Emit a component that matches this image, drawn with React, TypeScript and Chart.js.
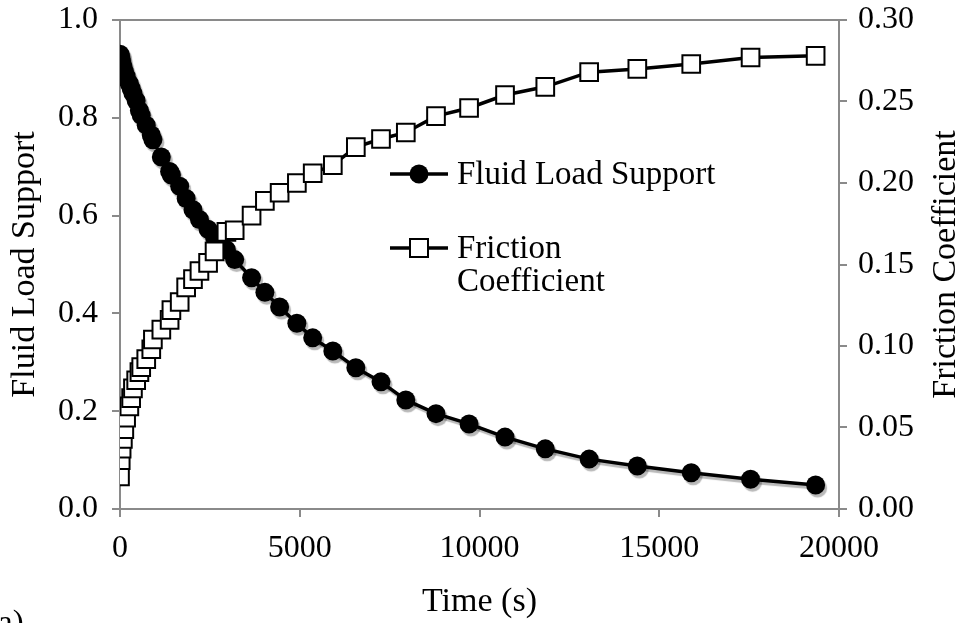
import React, { useEffect, useRef } from "react";
import { Chart, registerables } from "chart.js";

Chart.register(...registerables);

const timeSeconds = [
  0, 20, 45, 80, 120, 170, 260, 310, 360, 450, 540, 590, 730, 870, 915, 1150,
  1380, 1430, 1660, 1840, 2030, 2210, 2450, 2630, 2960, 3190, 3660, 4030, 4440,
  4920, 5360, 5920, 6560, 7260, 7950, 8790, 9710, 10710, 11830, 13050, 14390,
  15890, 17540, 19350,
];

const fluidLoadSupport = [
  0.93, 0.925, 0.915, 0.905, 0.895, 0.885, 0.87, 0.86, 0.85, 0.835, 0.815, 0.805,
  0.785, 0.765, 0.755, 0.72, 0.69, 0.683, 0.66, 0.635, 0.612, 0.592, 0.572, 0.555,
  0.53, 0.51, 0.473, 0.443, 0.413, 0.38, 0.35, 0.323, 0.289, 0.26, 0.223, 0.195,
  0.174, 0.147, 0.123, 0.102, 0.088, 0.074, 0.061, 0.049,
];

const frictionCoefficient = [
  0.02, 0.03, 0.037, 0.043, 0.049, 0.056, 0.063, 0.068, 0.074, 0.079, 0.084, 0.087,
  0.092, 0.098, 0.104, 0.11, 0.116, 0.122, 0.127, 0.136, 0.141, 0.146, 0.151, 0.158,
  0.17, 0.171, 0.18, 0.189, 0.194, 0.2, 0.206, 0.211, 0.222, 0.227, 0.231, 0.241,
  0.246, 0.254, 0.259, 0.268, 0.27, 0.273, 0.277, 0.278,
];

const xTicks = [0, 5000, 10000, 15000, 20000];
const leftTicks = [0, 0.2, 0.4, 0.6, 0.8, 1.0];
const rightTicks = [0, 0.05, 0.1, 0.15, 0.2, 0.25, 0.3];

const seriesNames = ["Fluid Load Support", "Friction Coefficient"];
const legendLines = [["Fluid Load Support"], ["Friction", "Coefficient"]];
const xTitle = "Time (s)";
const leftTitle = "Fluid Load Support";
const rightTitle = "Friction Coefficient";
const panelLabel = "a)";

const FONT = "'Liberation Serif', 'Times New Roman', serif";
const AXIS_GRAY = "#8a8a8a";

export default function App() {
  const canvasRef = useRef<HTMLCanvasElement | null>(null);

  useEffect(() => {
    const canvas = canvasRef.current;
    if (!canvas) return;

    const shadowPlugin = {
      id: "circleShadow",
      beforeDatasetDraw(chart: any, args: any) {
        if (args.index === 0) {
          const ctx = chart.ctx;
          ctx.save();
          ctx.shadowColor = "rgba(0,0,0,0.28)";
          ctx.shadowOffsetX = 2;
          ctx.shadowOffsetY = 3;
          ctx.shadowBlur = 1;
        }
      },
      afterDatasetDraw(chart: any, args: any) {
        if (args.index === 0) {
          chart.ctx.restore();
        }
      },
    };

    const framePlugin = {
      id: "frame",
      afterDatasetsDraw(chart: any) {
        const { ctx, chartArea } = chart;
        ctx.save();
        ctx.strokeStyle = AXIS_GRAY;
        ctx.lineWidth = 2;
        ctx.beginPath();
        ctx.moveTo(chartArea.left, chartArea.top);
        ctx.lineTo(chartArea.right, chartArea.top);
        ctx.stroke();
        ctx.restore();
      },
    };

    const legendPlugin = {
      id: "insideLegend",
      afterDraw(chart: any) {
        const ctx = chart.ctx;
        const { chartArea } = chart;
        ctx.save();
        const x0 = 390;
        const x1 = 448;
        const xm = (x0 + x1) / 2;
        const tx = 457;
        ctx.font = `33px ${FONT}`;
        ctx.fillStyle = "#000";
        ctx.textBaseline = "middle";
        ctx.textAlign = "left";
        // Fluid load support
        let y = 174;
        ctx.strokeStyle = "#000";
        ctx.lineWidth = 3.5;
        ctx.beginPath();
        ctx.moveTo(x0, y);
        ctx.lineTo(x1, y);
        ctx.stroke();
        ctx.beginPath();
        ctx.arc(xm, y, 9.5, 0, Math.PI * 2);
        ctx.fill();
        ctx.fillText(legendLines[0][0], tx, y + 1);
        // Friction
        y = 248;
        ctx.beginPath();
        ctx.moveTo(x0, y);
        ctx.lineTo(x1, y);
        ctx.stroke();
        ctx.fillStyle = "#fff";
        ctx.fillRect(xm - 9, y - 9, 18, 18);
        ctx.lineWidth = 2;
        ctx.strokeRect(xm - 9, y - 9, 18, 18);
        ctx.fillStyle = "#000";
        ctx.fillText(legendLines[1][0], tx, y + 1);
        ctx.fillText(legendLines[1][1], tx, y + 34);
        // right axis title (reads bottom to top)
        ctx.save();
        ctx.font = `34px ${FONT}`;
        ctx.textAlign = "center";
        ctx.textBaseline = "middle";
        ctx.translate(946, (chartArea.top + chartArea.bottom) / 2);
        ctx.rotate(-Math.PI / 2);
        ctx.fillText(rightTitle, 0, 0);
        ctx.restore();
        // panel label
        ctx.textBaseline = "alphabetic";
        ctx.font = `33px ${FONT}`;
        ctx.fillText(panelLabel, -2, 633);
        ctx.restore();
      },
    };

    const chart = new Chart(canvas, {
      type: "line",
      data: {
        datasets: [
          {
            label: seriesNames[0],
            data: timeSeconds.map((t, i) => ({ x: t, y: fluidLoadSupport[i] })),
            yAxisID: "y",
            borderColor: "#000",
            borderWidth: 3.5,
            backgroundColor: "#000",
            pointStyle: "circle",
            pointRadius: 9.5,
            pointBorderWidth: 0,
            pointBackgroundColor: "#000",
            tension: 0,
            order: 1,
          },
          {
            label: seriesNames[1],
            data: timeSeconds.map((t, i) => ({ x: t, y: frictionCoefficient[i] })),
            yAxisID: "y1",
            borderColor: "#000",
            borderWidth: 3.5,
            backgroundColor: "#fff",
            pointStyle: "rect",
            pointRadius: 12.5,
            pointBorderWidth: 2,
            pointBorderColor: "#000",
            pointBackgroundColor: "#fff",
            tension: 0,
            order: 0,
          },
        ],
      },
      options: {
        animation: false,
        responsive: false,
        maintainAspectRatio: false,
        layout: { padding: { top: 20, left: 0, right: 0, bottom: 0 } },
        plugins: {
          legend: { display: false },
          tooltip: { enabled: false },
        },
        scales: {
          x: {
            type: "linear",
            min: 0,
            max: 20000,
            afterBuildTicks: (s: any) => {
              s.ticks = xTicks.map((v) => ({ value: v }));
            },
            afterFit: (s: any) => {
              s.height = 114;
              s.paddingLeft = 0;
              s.paddingRight = 0;
            },
            ticks: {
              callback: (v: any) => String(v),
              font: { family: FONT, size: 32 },
              color: "#000",
              padding: 12,
              maxRotation: 0,
              autoSkip: false,
            },
            grid: {
              drawOnChartArea: false,
              drawTicks: true,
              tickLength: 8,
              color: AXIS_GRAY,
              lineWidth: 2,
            },
            border: { color: AXIS_GRAY, width: 2 },
            title: {
              display: true,
              text: xTitle,
              font: { family: FONT, size: 34 },
              color: "#000",
              padding: { top: 0, bottom: 1 },
            },
          },
          y: {
            type: "linear",
            position: "left",
            min: 0,
            max: 1,
            afterBuildTicks: (s: any) => {
              s.ticks = leftTicks.map((v) => ({ value: v }));
            },
            afterFit: (s: any) => {
              s.width = 120;
              s.paddingTop = 0;
              s.paddingBottom = 0;
            },
            ticks: {
              callback: (v: any) => Number(v).toFixed(1),
              font: { family: FONT, size: 32 },
              color: "#000",
              padding: 14,
            },
            grid: {
              drawOnChartArea: false,
              drawTicks: true,
              tickLength: 8,
              color: AXIS_GRAY,
              lineWidth: 2,
            },
            border: { color: AXIS_GRAY, width: 2 },
            title: {
              display: true,
              text: leftTitle,
              font: { family: FONT, size: 34 },
              color: "#000",
              padding: { top: 5, bottom: 0 },
            },
          },
          y1: {
            type: "linear",
            position: "right",
            min: 0,
            max: 0.3,
            afterBuildTicks: (s: any) => {
              s.ticks = rightTicks.map((v) => ({ value: v }));
            },
            afterFit: (s: any) => {
              s.width = 126;
              s.paddingTop = 0;
              s.paddingBottom = 0;
            },
            ticks: {
              callback: (v: any) => Number(v).toFixed(2),
              font: { family: FONT, size: 32 },
              color: "#000",
              padding: 11,
            },
            grid: {
              drawOnChartArea: false,
              drawTicks: true,
              tickLength: 8,
              color: AXIS_GRAY,
              lineWidth: 2,
            },
            border: { color: AXIS_GRAY, width: 2 },
            title: { display: false },
          },
        },
      },
      plugins: [shadowPlugin, framePlugin, legendPlugin],
    });

    return () => {
      chart.destroy();
    };
  }, []);

  return (
    <div
      style={{
        position: "absolute",
        left: 0,
        top: 0,
        width: 965,
        height: 623,
        background: "#fff",
        overflow: "hidden",
      }}
    >
      <canvas ref={canvasRef} width={965} height={623} style={{ display: "block" }} />
    </div>
  );
}
